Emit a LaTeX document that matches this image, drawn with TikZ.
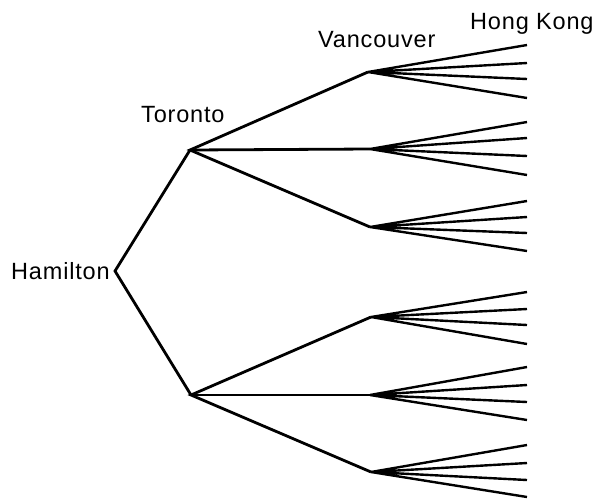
\documentclass[tikz,border=0pt]{standalone}
\usepackage{fontspec}
\setmainfont{Liberation Sans}
\newfontfamily\cityfont[LetterSpace=3.5]{Liberation Sans}
\begin{document}
\begin{tikzpicture}[x=1pt,y=-1pt,
  branch/.style={line width=2.8pt,line join=miter},
  twig/.style={line width=2.4pt},
  city/.style={inner sep=0pt,font=\cityfont\fontsize{23.5}{28}\selectfont}]
\useasboundingbox (0,0) rectangle (599,499);

% branch points
\coordinate (H) at (115,271);
\coordinate (T1) at (190,150);
\coordinate (T2) at (191,395);
\coordinate (V1) at (368,72);
\coordinate (V2) at (370,149);
\coordinate (V3) at (370,227);
\coordinate (V4) at (371,317);
\coordinate (V5) at (370,395);
\coordinate (V6) at (371,472);

% labels
\node[city,anchor=base west] (lh) at (11,279) {Hamilton};
\node[city,anchor=base west] (lt) at (141,122) {Toronto};
\node[city,anchor=base west] (lv) at (318,47) {Vancouver};
\node[city,anchor=base west] (lk) at (470,29) {Hong Kong};

% first two levels
\draw[branch] (T1) -- (H) -- (T2);
\draw[branch] (V1) -- (T1) -- (V3);
\draw[branch] (T1) -- (V2);
\draw[branch] (V4) -- (T2) -- (V6);
\draw[branch] (T2) -- (V5);

% leaves
\foreach \v/\ya/\yb/\yc/\yd in {V1/45/63/79/98, V2/122/138/156/175,
    V3/201/217/233/251, V4/292/309/325/344, V5/367/385/402/420,
    V6/445/463/480/497}{
  \coordinate (\v a) at (527,\ya);
  \coordinate (\v b) at (527,\yb);
  \coordinate (\v c) at (527,\yc);
  \coordinate (\v d) at (527,\yd);
  \draw[twig] (\v) -- (\v a) (\v) -- (\v b) (\v) -- (\v c) (\v) -- (\v d);
}
\end{tikzpicture}
\end{document}
